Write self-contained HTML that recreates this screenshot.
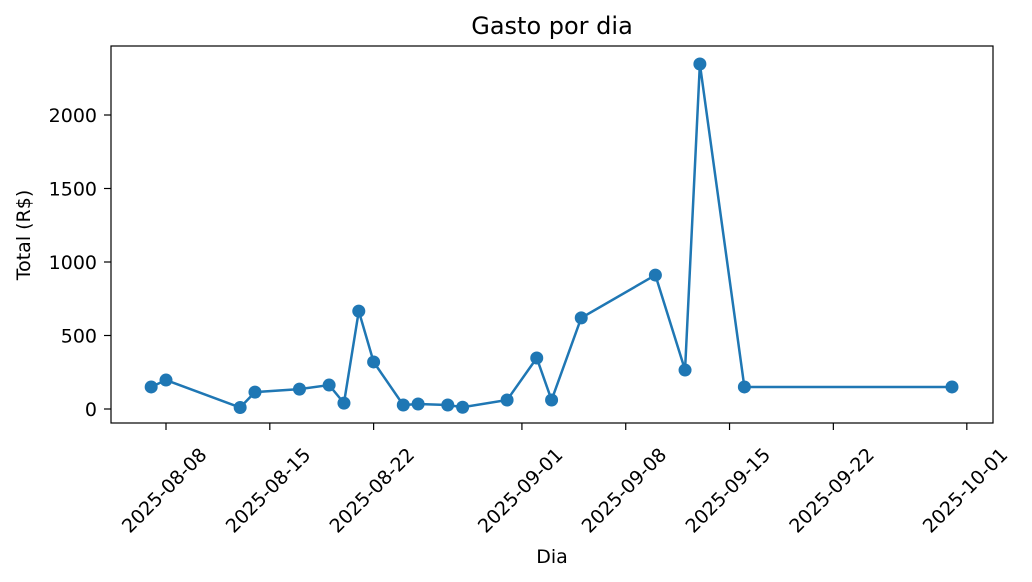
<!DOCTYPE html>
<html><head><meta charset="utf-8"><style>
html,body{margin:0;padding:0;background:#fff;}
svg{display:block;font-family:"DejaVu Sans","Liberation Sans",sans-serif;}
</style></head><body>
<svg id="chart" width="1032" height="582"></svg>
<script>
const dates = ["2025-08-07","2025-08-08","2025-08-13","2025-08-14","2025-08-17","2025-08-19","2025-08-20","2025-08-21","2025-08-22","2025-08-24","2025-08-25","2025-08-27","2025-08-28","2025-08-31","2025-09-02","2025-09-03","2025-09-05","2025-09-10","2025-09-12","2025-09-13","2025-09-16","2025-09-30"];
const values = [150,197,10,115,135,163,40,666,320,27,34,27,12,61,347,61,620,911,265,2347,150,150];
const xTicks = ["2025-08-08","2025-08-15","2025-08-22","2025-09-01","2025-09-08","2025-09-15","2025-09-22","2025-10-01"];
const yTicks = [0,500,1000,1500,2000];

const NS="http://www.w3.org/2000/svg";
const svg=document.getElementById('chart');
const L=111,R=993,T=46,B=423;
const d0=Date.parse("2025-08-08");
function dayNum(s){return (Date.parse(s)-d0)/86400000;}
function xs(s){return 166+dayNum(s)*14.83;}
function ys(v){return 409-v*0.147;}
function mk(tag,attrs,name,txt){const e=document.createElementNS(NS,tag);for(const k in attrs)e.setAttribute(k,attrs[k]);


if(txt!==undefined)e.textContent=txt;svg.appendChild(e);return e;}

mk('rect',{x:L,y:T,width:R-L,height:B-T,fill:'none',stroke:'#000','stroke-width':1.2},'plot-frame');
yTicks.forEach(v=>{const y=ys(v);
mk('line',{x1:L-7,x2:L,y1:y,y2:y,stroke:'#000','stroke-width':1.2},'y-tick');
mk('text',{x:L-14,y:y+7,'text-anchor':'end','font-size':19},'y-tick-label',String(v));});
xTicks.forEach(s=>{const x=xs(s);
mk('line',{x1:x,x2:x,y1:B,y2:B+7,stroke:'#000','stroke-width':1.2},'x-tick');
const cx=x-2, cy=B+67;
mk('text',{x:cx,y:cy+7,'text-anchor':'middle','font-size':19,transform:`rotate(-45 ${cx} ${cy})`},'x-tick-label',s);});
const pts=dates.map((d,i)=>xs(d)+','+ys(values[i])).join(' ');
mk('polyline',{points:pts,fill:'none',stroke:'#1f77b4','stroke-width':2.5},'series-line');
dates.forEach((d,i)=>mk('circle',{cx:xs(d),cy:ys(values[i]),r:6.5,fill:'#1f77b4'},'data-point'));
mk('text',{x:552,y:34,'text-anchor':'middle','font-size':24},'chart-title','Gasto por dia');
mk('text',{x:552,y:563,'text-anchor':'middle','font-size':19},'x-axis-title','Dia');
mk('text',{x:30,y:235,'text-anchor':'middle','font-size':19,transform:'rotate(-90 30 235)'},'y-axis-title','Total (R$)');
</script>
</body></html>
